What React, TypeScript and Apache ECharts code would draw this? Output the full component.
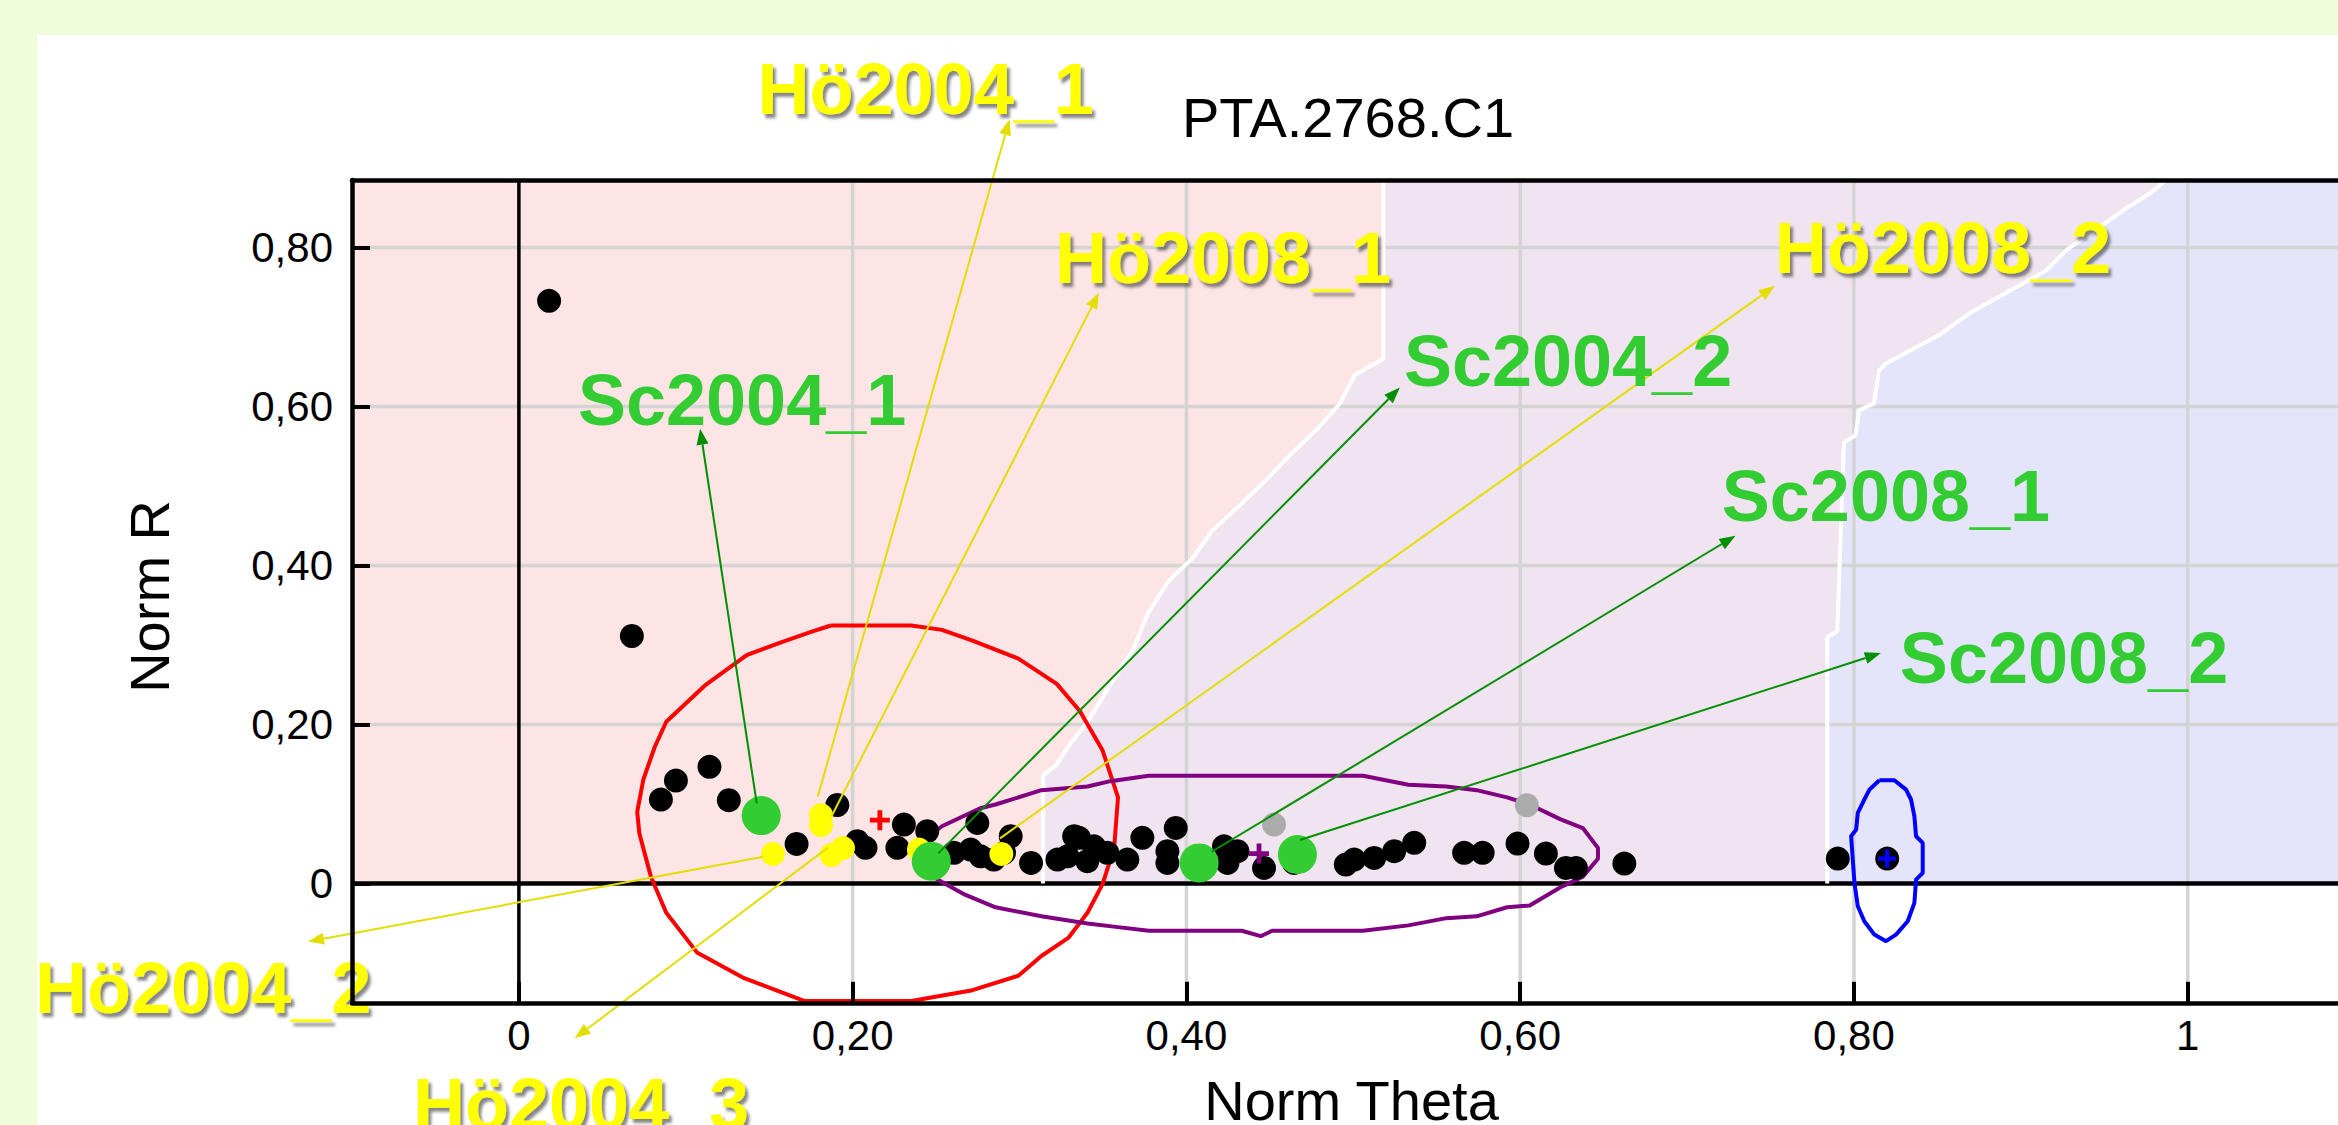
import React, { useEffect, useRef } from "react";
import * as echarts from "echarts";

// ---------- axes ----------
const X_MIN = -0.1;
const X_MAX = 1.12;
const Y_MIN = -0.15;
const Y_MAX = 0.885;
const xTickValues = [0, 0.2, 0.4, 0.6, 0.8, 1];
const yTickValues = [0, 0.2, 0.4, 0.6, 0.8];
const xGridValues = [0.2, 0.4, 0.6, 0.8, 1];
const yGridValues = [0.2, 0.4, 0.6, 0.8];

const chartTitle = "PTA.2768.C1";
const xAxisName = "Norm Theta";
const yAxisName = "Norm R";

// ---------- points ----------
const blackDots: number[][] = [
  [0.0181, 0.733], [0.0677, 0.3114],
  [0.1142, 0.1468], [0.0941, 0.1296], [0.0851, 0.1057], [0.1258, 0.1049], [0.1908, 0.0988], [0.1664, 0.0499],
  [0.2028, 0.0532], [0.2077, 0.0449], [0.2307, 0.0742], [0.2268, 0.0449], [0.2447, 0.0658], [0.2747, 0.0763],
  [0.2607, 0.0386], [0.2707, 0.0427], [0.2767, 0.0343], [0.2846, 0.0302], [0.2947, 0.0595], [0.2907, 0.0386],
  [0.3069, 0.026], [0.3227, 0.0302], [0.3327, 0.0595],
  [0.3287, 0.0343], [0.3356, 0.0575], [0.3446, 0.0469], [0.3526, 0.0386], [0.3406, 0.0281], [0.3646, 0.0302],
  [0.3736, 0.0575], [0.3936, 0.07], [0.3886, 0.0407], [0.3886, 0.026], [0.4225, 0.0469], [0.4306, 0.0407],
  [0.4246, 0.026], [0.4465, 0.0197], [0.4645, 0.026], [0.4955, 0.0239], [0.5005, 0.0302], [0.5125, 0.0323],
  [0.5245, 0.0407], [0.5365, 0.0512], [0.5664, 0.0386], [0.5775, 0.0386], [0.5984, 0.0503], [0.6154, 0.0377],
  [0.6274, 0.0197], [0.6334, 0.0197], [0.6624, 0.0252], [0.7903, 0.0314], [0.8199, 0.0314],
];
const greyDots: number[][] = [[0.4525, 0.0742], [0.604, 0.0985]];
const yellowDots: number[][] = [
  [0.181, 0.0862], [0.181, 0.0736], [0.1522, 0.0373], [0.1873, 0.0358], [0.1942, 0.0447],
  [0.2891, 0.0373], [0.2397, 0.0428],
];
const greenDots: number[][] = [[0.1452, 0.0855], [0.2471, 0.0281], [0.4076, 0.026], [0.4665, 0.0365]];
const redCross: number[][] = [[0.2163, 0.0797]];
const purpleCross: number[][] = [[0.4435, 0.0377]];
const blueCross: number[][] = [[0.8199, 0.0314]];

// ---------- confidence ellipses ----------
const redEllipse: number[][] = [
  [0.1869, 0.3246], [0.2351, 0.3246], [0.2535, 0.3191], [0.2718, 0.3056], [0.2993, 0.2829], [0.3223, 0.2512],
  [0.3361, 0.2171], [0.3498, 0.1673], [0.359, 0.1084], [0.3567, 0.0449], [0.3498, -0.0004], [0.3407, -0.0367],
  [0.3292, -0.0684], [0.3131, -0.0911], [0.2993, -0.116], [0.2718, -0.1341], [0.2351, -0.1477], [0.1709, -0.1477],
  [0.1342, -0.1182], [0.1067, -0.0866], [0.0883, -0.0367], [0.0791, 0.0087], [0.0722, 0.063], [0.0709, 0.0902],
  [0.0746, 0.1311], [0.0814, 0.1718], [0.0883, 0.2035], [0.1113, 0.2489], [0.1365, 0.2874], [0.1571, 0.3033],
  [0.1755, 0.3169], [0.1869, 0.3246],
];
const purpleEllipse: number[][] = [
  [0.239, 0.035], [0.242, 0.054], [0.2535, 0.0721], [0.2764, 0.0948], [0.2856, 0.0994], [0.3131, 0.1175],
  [0.3407, 0.122], [0.3544, 0.1288], [0.3774, 0.1356], [0.5058, 0.1356], [0.533, 0.1243], [0.5558, 0.122],
  [0.5739, 0.1175], [0.5921, 0.1084], [0.6057, 0.0994], [0.6239, 0.0811], [0.6375, 0.0698], [0.6466, 0.0449],
  [0.6466, 0.0313], [0.6375, 0.0087], [0.6239, -0.0049], [0.6057, -0.0277], [0.5921, -0.0298], [0.5739, -0.0412],
  [0.5558, -0.0435], [0.533, -0.0526], [0.5058, -0.0594], [0.4513, -0.0594], [0.4445, -0.0662], [0.4331, -0.0594],
  [0.3774, -0.0594], [0.359, -0.0548], [0.3407, -0.0503], [0.3131, -0.0412], [0.2856, -0.0299], [0.2673, -0.014],
  [0.2535, 0.0019], [0.243, 0.015], [0.239, 0.035],
];
const blueEllipse: number[][] = [
  [0.8152, 0.13], [0.8242, 0.13], [0.8312, 0.1182], [0.8342, 0.1057], [0.8362, 0.0847], [0.8372, 0.0595],
  [0.8412, 0.0511], [0.8412, 0.0134], [0.8372, 0.005], [0.8362, -0.0243], [0.8322, -0.0474], [0.8252, -0.0642],
  [0.8192, -0.0725], [0.8122, -0.0642], [0.8062, -0.0474], [0.8023, -0.0285], [0.8003, 0.0008], [0.7983, 0.0595],
  [0.8013, 0.0679], [0.8023, 0.0889], [0.8062, 0.1057], [0.8093, 0.1182], [0.8152, 0.13],
];

// ---------- class boundaries (top to bottom) ----------
const boundary1: number[][] = [
  [0.518, 0.885], [0.518, 0.66], [0.501, 0.64], [0.492, 0.604], [0.479, 0.573], [0.463, 0.541], [0.447, 0.506],
  [0.431, 0.474], [0.415, 0.443], [0.404, 0.41], [0.389, 0.38], [0.377, 0.34], [0.368, 0.294], [0.354, 0.249],
  [0.341, 0.204], [0.329, 0.172], [0.322, 0.149], [0.314, 0.136], [0.314, 0],
];
const boundary2: number[][] = [
  [0.987, 0.885], [0.978, 0.869], [0.965, 0.852], [0.946, 0.824], [0.928, 0.798], [0.915, 0.771], [0.892, 0.744],
  [0.869, 0.717], [0.851, 0.69], [0.819, 0.654], [0.815, 0.645], [0.812, 0.604], [0.803, 0.595], [0.801, 0.564],
  [0.794, 0.555], [0.792, 0.438], [0.79, 0.317], [0.784, 0.31], [0.784, 0],
];

// ---------- annotations ----------
const annotationNames = ["Hö2004_1", "Hö2008_1", "Hö2008_2", "Sc2004_1", "Sc2004_2", "Sc2008_1", "Sc2008_2", "Hö2004_2", "Hö2004_3"];
const annotationGroups = ["Hö", "Hö", "Hö", "Sc", "Sc", "Sc", "Sc", "Hö", "Hö"];
const annotationFrom: number[][] = [
  [0.1791, 0.1092], [0.1872, 0.084], [0.2883, 0.0569], [0.1425, 0.1009], [0.2513, 0.038],
  [0.4151, 0.04], [0.468, 0.0547], [0.1464, 0.0337], [0.1854, 0.0455],
];
const annotationTip: number[][] = [
  [0.294, 0.9613], [0.3476, 0.7433], [0.7526, 0.7519], [0.1086, 0.5722], [0.5279, 0.6239],
  [0.729, 0.4375], [0.8161, 0.2899], [-0.1264, -0.073], [0.0334, -0.1947],
];
const annotationLabelAt: number[][] = [
  [0.143, 0.9685], [0.3212, 0.756], [0.7526, 0.7679], [0.0354, 0.5767], [0.5303, 0.6258],
  [0.7208, 0.456], [0.8275, 0.2528], [-0.2899, -0.1629], [-0.0635, -0.3088],
];

const FONT = "'Liberation Sans', Arial, Helvetica, sans-serif";
const PINK = "#fde4e5";
const LAVENDER = "#f0e4f0";
const BLUE = "#e4e4fb";
const GROUP_LINE: Record<string, string> = { "Hö": "#e3de00", Sc: "#008f00" };
const GROUP_TEXT: Record<string, string> = { "Hö": "#ffff00", Sc: "#33cc33" };
const LABEL_FS = 72;
const CROSS = "path://M3.8,0h2.4v3.8h3.8v2.4h-3.8v3.8h-2.4v-3.8h-3.8v-2.4h3.8z";

const fmt = (v: number) => (v === 0 ? "0" : v === 1 ? "1" : v.toFixed(2).replace(".", ","));

export default function App() {
  const ref = useRef<HTMLDivElement>(null);

  useEffect(() => {
    if (!ref.current) return;
    const chart = echarts.init(ref.current, undefined, { renderer: "svg" });

    const regions = [
      [[X_MIN, 0], [X_MIN, Y_MAX], ...boundary1],
      [...boundary1, ...boundary2.slice().reverse()],
      [...boundary2, [X_MAX, 0], [X_MAX, Y_MAX]],
    ];
    const regionColors = [PINK, LAVENDER, BLUE];

    const gridItems = [...xGridValues.map((v) => [v, 0]), ...yGridValues.map((v) => [0, v])];

    const option: any = {
      animation: false,
      title: {
        text: chartTitle,
        left: 1177,
        top: 84,
        textStyle: { fontSize: 56, fontWeight: "normal", fontFamily: FONT, color: "#000" },
      },
      grid: {
        left: 352,
        top: 180,
        right: -50,
        bottom: 122.2,
        containLabel: false,
        outerBoundsMode: "none",
      },
      xAxis: [
        {
          type: "value",
          min: X_MIN,
          max: X_MAX,
          z: 10,
          position: "bottom",
          axisLine: { show: true, onZero: false, lineStyle: { color: "#000", width: 4.5 } },
          axisTick: { show: true, inside: true, length: 21, customValues: xTickValues, lineStyle: { color: "#000", width: 4 } },
          axisLabel: {
            show: true,
            customValues: xTickValues,
            formatter: fmt,
            fontSize: 42,
            fontFamily: FONT,
            color: "#000",
            margin: 12,
          },
          splitLine: { show: false },
          name: xAxisName,
          nameLocation: "middle",
          nameGap: 70,
          nameTextStyle: { fontSize: 56, fontFamily: FONT, color: "#000", padding: [0, 37, 0, 0] },
        },
        {
          type: "value",
          min: X_MIN,
          max: X_MAX,
          z: 10,
          position: "top",
          axisLine: { show: true, onZero: false, lineStyle: { color: "#000", width: 4.5 } },
          axisTick: { show: false },
          axisLabel: { show: false },
          splitLine: { show: false },
        },
      ],
      yAxis: {
        type: "value",
        min: Y_MIN,
        max: Y_MAX,
        z: 10,
        axisLine: { show: true, onZero: false, lineStyle: { color: "#000", width: 4.5 } },
        axisTick: { show: true, inside: true, length: 18, customValues: yTickValues, lineStyle: { color: "#000", width: 4 } },
        axisLabel: {
          show: true,
          customValues: yTickValues,
          formatter: fmt,
          fontSize: 42,
          fontFamily: FONT,
          color: "#000",
          margin: 19,
          padding: [10, 0, 0, 0],
        },
        splitLine: { show: false },
        name: yAxisName,
        nameLocation: "middle",
        nameGap: 175,
        nameRotate: 90,
        nameTextStyle: { fontSize: 56, fontFamily: FONT, color: "#000", padding: [0, 10, 0, 0] },
      },
      series: [
        {
          name: "classes",
          type: "custom",
          z: 1,
          clip: true,
          silent: true,
          data: regions.map((_, i) => [i, 0]),
          renderItem: (params: any, api: any) => {
            const pts = regions[params.dataIndex].map((p) => api.coord(p));
            return { type: "polygon", shape: { points: pts }, style: { fill: regionColors[params.dataIndex] } };
          },
        },
        {
          name: "gridlines",
          type: "custom",
          z: 2,
          clip: true,
          silent: true,
          data: gridItems,
          renderItem: (params: any, api: any) => {
            const i = params.dataIndex;
            const v = gridItems[i];
            const isX = i < xGridValues.length;
            const a = isX ? api.coord([v[0], Y_MIN]) : api.coord([X_MIN, v[1]]);
            const b = isX ? api.coord([v[0], Y_MAX]) : api.coord([X_MAX, v[1]]);
            return {
              type: "line",
              shape: { x1: a[0], y1: a[1], x2: b[0], y2: b[1] },
              style: { stroke: "#d4d4d4", lineWidth: 3.5 },
            };
          },
        },
        {
          name: "boundary1",
          type: "line",
          z: 3,
          silent: true,
          showSymbol: false,
          data: boundary1,
          lineStyle: { color: "#ffffff", width: 4 },
        },
        {
          name: "boundary2",
          type: "line",
          z: 3,
          silent: true,
          showSymbol: false,
          data: boundary2,
          lineStyle: { color: "#ffffff", width: 4 },
        },
        {
          name: "zero",
          type: "custom",
          z: 3,
          clip: true,
          silent: true,
          data: [[0, 0], [0, 0]],
          renderItem: (params: any, api: any) => {
            const vertical = params.dataIndex === 0;
            const a = vertical ? api.coord([0, Y_MIN]) : api.coord([X_MIN, 0]);
            const b = vertical ? api.coord([0, Y_MAX]) : api.coord([X_MAX, 0]);
            return {
              type: "line",
              shape: { x1: a[0], y1: a[1], x2: b[0], y2: b[1] },
              style: { stroke: "#000", lineWidth: vertical ? 3.5 : 4.5 },
            };
          },
        },
        { name: "red ellipse", type: "line", z: 4, silent: true, showSymbol: false, data: redEllipse, lineStyle: { color: "#ff0000", width: 4 } },
        { name: "purple ellipse", type: "line", z: 4, silent: true, showSymbol: false, data: purpleEllipse, lineStyle: { color: "#800080", width: 4 } },
        { name: "blue ellipse", type: "line", z: 4, silent: true, showSymbol: false, data: blueEllipse, lineStyle: { color: "#0000ff", width: 4 } },
        { name: "samples", type: "scatter", z: 5, symbolSize: 24, data: blackDots, itemStyle: { color: "#000", opacity: 1 } },
        { name: "grey", type: "scatter", z: 5, symbolSize: 24, data: greyDots, itemStyle: { color: "#ababab", opacity: 1 } },
        { name: "Hö", type: "scatter", z: 6, symbolSize: 24, data: yellowDots, itemStyle: { color: "#ffff00", opacity: 1 } },
        { name: "Sc", type: "scatter", z: 6, symbolSize: 39, data: greenDots, itemStyle: { color: "#33cc33", opacity: 1 } },
        {
          name: "arrows",
          type: "custom",
          z: 7,
          clip: false,
          silent: true,
          data: annotationFrom,
          renderItem: (params: any, api: any) => {
            const i = params.dataIndex;
            const s = api.coord(annotationFrom[i]);
            const t = api.coord(annotationTip[i]);
            const dx = t[0] - s[0];
            const dy = t[1] - s[1];
            const len = Math.hypot(dx, dy) || 1;
            const ux = dx / len;
            const uy = dy / len;
            const hl = 16;
            const hw = 6;
            const bx = t[0] - ux * hl;
            const by = t[1] - uy * hl;
            const color = GROUP_LINE[annotationGroups[i]];
            return {
              type: "group",
              children: [
                { type: "line", shape: { x1: s[0], y1: s[1], x2: bx, y2: by }, style: { stroke: color, lineWidth: 2 } },
                {
                  type: "polygon",
                  shape: { points: [[t[0], t[1]], [bx - uy * hw, by + ux * hw], [bx + uy * hw, by - ux * hw]] },
                  style: { fill: color },
                },
              ],
            };
          },
        },
        { name: "red centre", type: "scatter", z: 8, symbol: CROSS, symbolSize: 20, data: redCross, itemStyle: { color: "#ff0000", opacity: 1 } },
        { name: "purple centre", type: "scatter", z: 8, symbol: CROSS, symbolSize: 20, data: purpleCross, itemStyle: { color: "#800080", opacity: 1 } },
        { name: "blue centre", type: "scatter", z: 8, symbol: CROSS, symbolSize: 18, data: blueCross, itemStyle: { color: "#0000ff", opacity: 1 } },
        {
          name: "labels",
          type: "custom",
          z: 9,
          clip: false,
          silent: true,
          data: annotationLabelAt,
          renderItem: (params: any, api: any) => {
            const i = params.dataIndex;
            const p = api.coord(annotationLabelAt[i]);
            const g = annotationGroups[i];
            const style: any = {
              text: annotationNames[i],
              fill: GROUP_TEXT[g],
              fontSize: LABEL_FS,
              fontWeight: "bold",
              fontFamily: FONT,
              align: "left",
              verticalAlign: "middle",
            };
            if (g === "Hö") {
              style.textShadowColor = "rgba(70,70,70,0.65)";
              style.textShadowBlur = 3;
              style.textShadowOffsetX = 3;
              style.textShadowOffsetY = 4;
            }
            return { type: "text", x: p[0], y: p[1] - 0.3465 * LABEL_FS, style };
          },
        },
      ],
    };

    chart.setOption(option);
    return () => chart.dispose();
  }, []);

  return (
    <div style={{ position: "fixed", left: 0, top: 0, width: 2338, height: 1125, background: "#f1fcda", overflow: "hidden" }}>
      <div style={{ position: "absolute", left: 37, top: 35, right: 0, bottom: 0, background: "#ffffff" }} />
      <div ref={ref} style={{ position: "absolute", left: 0, top: 0, width: 2338, height: 1125 }} />
    </div>
  );
}
